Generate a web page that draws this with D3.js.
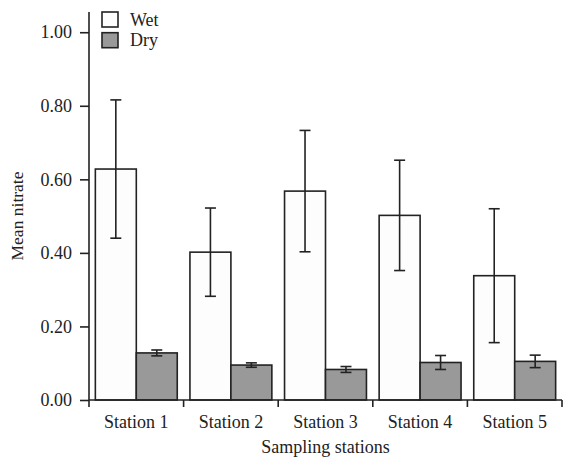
<!DOCTYPE html>
<html>
<head>
<meta charset="utf-8">
<script src="https://cdn.jsdelivr.net/npm/d3@7"></script>
<style>
  body { margin: 0; background: #fff; }
  svg { display: block; }
  text { font-family: "Liberation Serif", "Times New Roman", serif; fill: #222; }
</style>
</head>
<body>
<svg width="563" height="462"></svg>
<script>
// данные графика
const stations = ["Station 1", "Station 2", "Station 3", "Station 4", "Station 5"];
const seriesNames = ["Wet", "Dry"];
const wetMean = [0.628, 0.402, 0.568, 0.502, 0.338];
const wetErr  = [0.188, 0.120, 0.165, 0.150, 0.182];
const dryMean = [0.128, 0.095, 0.083, 0.102, 0.105];
const dryErr  = [0.008, 0.006, 0.008, 0.019, 0.017];
const yTicks  = [0, 0.2, 0.4, 0.6, 0.8, 1.0];

const colors = { Wet: "#fdfdfd", Dry: "#999999" };
const ink = "#222";
const fs = 18;

const svg = d3.select("svg");
const plotLeft = 89, plotRight = 562, plotTop = 12, plotBottom = 400;

// таблица для баров
const rows = [];
stations.forEach((s, i) => {
    rows.push({ station: s, series: "Wet", mean: wetMean[i], err: wetErr[i] });
    rows.push({ station: s, series: "Dry", mean: dryMean[i], err: dryErr[i] });
});

const x = d3.scaleBand().domain(stations).range([plotLeft, plotRight]).paddingInner(0).paddingOuter(0);
const xs = d3.scaleBand().domain(seriesNames).range([0, x.bandwidth()]).paddingOuter(0.155).paddingInner(0);
const y = d3.scaleLinear().domain([0, 1.055]).range([plotBottom, plotTop]);

// бары
svg.append("g").selectAll("rect")
    .data(rows)
    .join("rect")
    .attr("x", d => x(d.station) + xs(d.series))
    .attr("y", d => y(d.mean))
    .attr("width", xs.bandwidth())
    .attr("height", d => y(0) - y(d.mean))
    .attr("fill", d => colors[d.series])
    .attr("stroke", ink)
    .attr("stroke-width", 1.6);

// планки погрешностей
const cap = 5.5;
const eb = svg.append("g").attr("stroke", ink).attr("stroke-width", 1.6);
rows.forEach(d => {
    const cx = x(d.station) + xs(d.series) + xs.bandwidth() / 2;
    const y1 = y(d.mean + d.err), y2 = y(d.mean - d.err);
    eb.append("line").attr("x1", cx).attr("x2", cx).attr("y1", y1).attr("y2", y2);
    eb.append("line").attr("x1", cx - cap).attr("x2", cx + cap).attr("y1", y1).attr("y2", y1);
    eb.append("line").attr("x1", cx - cap).attr("x2", cx + cap).attr("y1", y2).attr("y2", y2);
});

// ось Y
const yAxis = svg.append("g")
    .attr("transform", `translate(${plotLeft},0)`)
    .call(d3.axisLeft(y).tickValues(yTicks).tickFormat(d3.format(".2f")).tickSize(9).tickPadding(8).tickSizeOuter(0));
yAxis.select(".domain").attr("d", `M0,${plotTop}V${plotBottom}`);

// ось X: тики на границах групп
const xAxis = svg.append("g").attr("transform", `translate(0,${plotBottom})`);
xAxis.append("line").attr("x1", plotLeft).attr("x2", plotRight).attr("y1", 0).attr("y2", 0)
    .attr("stroke", ink).attr("stroke-width", 1.6);
const bounds = stations.map(s => x(s)).concat([plotRight]);
xAxis.selectAll("line.tk").data(bounds).join("line").attr("class", "tk")
    .attr("x1", d => d).attr("x2", d => d).attr("y1", 0).attr("y2", 7)
    .attr("stroke", ink).attr("stroke-width", 1.6);
xAxis.selectAll("text").data(stations).join("text")
    .attr("x", d => x(d) + x.bandwidth() / 2)
    .attr("y", 28)
    .attr("text-anchor", "middle")
    .attr("font-size", fs)
    .text(d => d);

svg.selectAll(".tick line").attr("stroke", ink).attr("stroke-width", 1.6);
svg.selectAll(".domain").attr("stroke", ink).attr("stroke-width", 1.6);
yAxis.selectAll("text").attr("font-size", fs).attr("font-family", "Liberation Serif").attr("fill", ink);

// подписи осей
svg.append("text")
    .attr("x", (plotLeft + plotRight) / 2)
    .attr("y", 453)
    .attr("text-anchor", "middle")
    .attr("font-size", fs)
    .text("Sampling stations");
svg.append("text")
    .attr("transform", `translate(23,${(plotTop + plotBottom) / 2 + 10}) rotate(-90)`)
    .attr("text-anchor", "middle")
    .attr("font-size", 17.5)
    .text("Mean nitrate");

// легенда
const legend = svg.append("g").attr("transform", "translate(102,12)");
seriesNames.forEach((s, i) => {
    const g = legend.append("g").attr("transform", `translate(0,${i * 20.7})`);
    g.append("rect").attr("width", 16).attr("height", 15)
        .attr("fill", colors[s]).attr("stroke", ink).attr("stroke-width", 1.6);
    g.append("text").attr("x", 28).attr("y", 13.5).attr("font-size", fs).text(s);
});
</script>
</body>
</html>
